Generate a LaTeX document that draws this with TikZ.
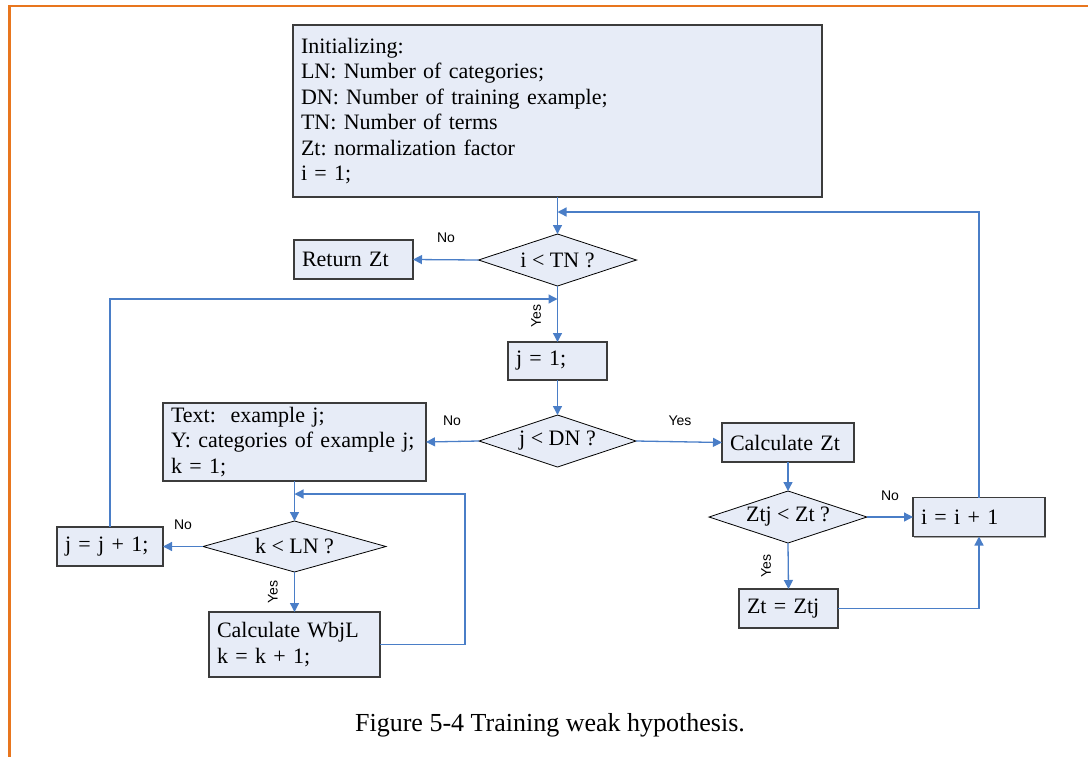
\documentclass[tikz,border=0pt]{standalone}
\usepackage{fontspec}
\setmainfont{Liberation Serif}
\newfontfamily\labelfont{Liberation Sans}
\usetikzlibrary{arrows.meta,shapes.geometric,shadows}
\frenchspacing

\definecolor{linkblue}{RGB}{74,126,199}
\definecolor{boxfill}{RGB}{231,236,247}
\definecolor{frameorange}{RGB}{232,118,30}
\definecolor{boxedge}{RGB}{60,60,60}

\tikzset{
  every node/.style={inner sep=0pt, outer sep=0pt},
  procbox/.style={draw=boxedge, line width=1.4pt, fill=boxfill, align=left,
    inner xsep=8pt, font=\fontsize{22}{25.5}\selectfont,
    drop shadow={shadow xshift=1.3pt, shadow yshift=-1.3pt, fill=black!35, opacity=1}},
  decision/.style={diamond, aspect=3, draw=black, line width=0.8pt, fill=boxfill,
    font=\fontsize{22}{25.5}\selectfont},
  flow/.style={draw=linkblue, line width=1.3pt, -{Triangle[length=9pt,width=9pt]}},
  tag/.style={font=\labelfont\fontsize{14}{16}\selectfont},
  frameline/.style={draw=frameorange, line width=2.6pt},
}

\begin{document}
\begin{tikzpicture}[x=1pt,y=-1pt]
\useasboundingbox (0,0) rectangle (1088,756);

% page frame
\draw[frameline] (9.5,760) -- (9.5,6) -- (1092,6);

% process boxes
\node[procbox, minimum width=529pt, minimum height=172pt, text width=513pt] (init) at (557.5,111)
  {Initializing:\\LN: Number of categories;\\DN: Number of training example;\\TN: Number of terms\\Zt: normalization factor\\i = 1;};
\node[procbox, minimum width=119pt, minimum height=39pt, text width=103pt] (ret) at (353.5,259.5) {Return Zt};
\node[procbox, minimum width=99pt, minimum height=38pt, text width=83pt] (j1) at (557.5,361) {j = 1;};
\node[procbox, minimum width=263pt, minimum height=78pt, text width=247pt] (textbox) at (294.5,442)
  {Text:\ \ example j;\\Y: categories of example j;\\k = 1;};
\node[procbox, minimum width=106pt, minimum height=39pt, text width=90pt] (jinc) at (110,546.5) {j = j + 1;};
\node[procbox, minimum width=171pt, minimum height=65pt, text width=155pt] (wbjl) at (294.5,644.5)
  {Calculate WbjL\\k = k + 1;};
\node[procbox, minimum width=132pt, minimum height=39pt, text width=116pt] (calczt) at (788,442.5) {Calculate Zt};
\node[procbox, minimum width=132pt, minimum height=39pt, text width=116pt] (iinc) at (979,517) {i = i + 1};
\node[procbox, minimum width=99pt, minimum height=39pt, text width=83pt] (ztztj) at (788.5,608.5) {Zt = Ztj};

% decisions
\node[decision, minimum width=158pt, minimum height=52pt] (d1) at (557.5,260) {i < TN ?};
\node[decision, minimum width=157pt, minimum height=52pt] (d2) at (557.5,441) {j < DN ?};
\node[decision, minimum width=183pt, minimum height=51pt] (d3) at (294.5,546.5) {k < LN ?};
\node[decision, minimum width=158pt, minimum height=52pt] (d4) at (788,517) {Ztj < Zt ?};

% loop junctions
\coordinate (iloop) at (557.5,212);
\coordinate (jloop) at (557.5,299);
\coordinate (kturn) at (465,494);
\coordinate (kloop) at (294.5,494);

% connectors
\draw[flow] (init.south) -- (d1.north);
\draw[flow] (d1.west) -- (ret.east);
\draw[flow] (d1.south) -- (j1.north);
\draw[flow] (j1.south) -- (d2.north);
\draw[flow] (d2.west) -- (textbox.east);
\draw[flow] (d2.east) -- (calczt.west);
\draw[flow] (textbox.south) -- (d3.north);
\draw[flow] (d3.west) -- (jinc.east);
\draw[flow] (d3.south) -- (wbjl.north);
\draw[flow] (calczt.south) -- (d4.north);
\draw[flow] (d4.east) -- (iinc.west);
\draw[flow] (d4.south) -- (ztztj.north);
\draw[flow] (ztztj.east) -| (iinc.south);
\draw[flow] (iinc.north) |- (iloop);
\draw[flow] (jinc.north) |- (jloop);
\draw[flow] (wbjl.east) -| (kturn) -- (kloop);

% branch labels
\node[tag] (no1) at (446,238) {No};
\node[tag, rotate=90] (yes1) at (536,316) {Yes};
\node[tag] (no2) at (452,421) {No};
\node[tag] (yes2) at (680,421) {Yes};
\node[tag] (no3) at (183,525) {No};
\node[tag, rotate=90] (yes3) at (273,592) {Yes};
\node[tag] (no4) at (890,496) {No};
\node[tag, rotate=90] (yes4) at (766,566) {Yes};

% caption
\node[anchor=base, font=\fontsize{26}{30}\selectfont] (caption) at (550,731) {Figure 5-4 Training weak hypothesis.};
\end{tikzpicture}
\end{document}
